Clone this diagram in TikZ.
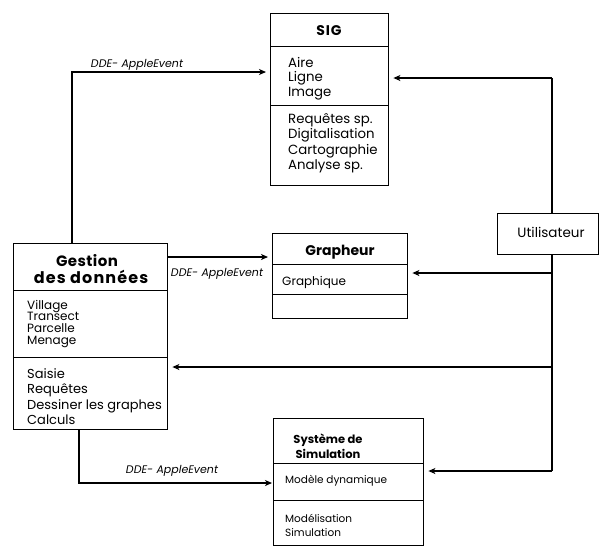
\documentclass[tikz,border=0pt]{standalone}
\usepackage{fontspec}
\setmainfont{Poppins}
\usetikzlibrary{arrows.meta}
\newcommand{\fs}[1]{\fontsize{#1}{#1}\selectfont}
\begin{document}
\begin{tikzpicture}[x=1pt,y=-1pt,
  frame/.style={draw, line width=1.4pt, anchor=north west, inner sep=0pt},
  sep/.style={line width=1pt},
  title/.style={anchor=base, inner sep=0pt, font=\bfseries},
  item/.style={anchor=base west, inner sep=0pt},
  link/.style={line width=1.1pt},
  arr/.style={line width=1.1pt, -{Stealth[length=7pt,width=6pt,inset=2pt]}, shorten >=4pt},
  tag/.style={anchor=base, inner sep=0pt, font=\fs{11}\itshape}]
\useasboundingbox (0,0) rectangle (600,550);

% --- SIG ---
\node[frame, minimum width=118pt, minimum height=172pt] (sig) at (270,13) {};
\draw[sep] (sig.west |- 0,46) -- (sig.east |- 0,46);
\draw[sep] (sig.west |- 0,105) -- (sig.east |- 0,105);
\node[title, font=\fs{14}\bfseries\addfontfeature{LetterSpace=6}] (sigt) at (329,35) {SIG};
\foreach \t [count=\i] in {Aire, Ligne, Image}
  \node[item, font=\fs{13.3}] (sig-a\i) at (288,{67+14.7*(\i-1)}) {\t};
\foreach \t [count=\i] in {Requêtes sp., Digitalisation, Cartographie, Analyse sp.}
  \node[item, font=\fs{13.3}] (sig-b\i) at (288,{123+15.5*(\i-1)}) {\t};

% --- Grapheur ---
\node[frame, minimum width=135pt, minimum height=85pt] (gra) at (272,233) {};
\draw[sep] (gra.west |- 0,264) -- (gra.east |- 0,264);
\draw[sep] (gra.west |- 0,294) -- (gra.east |- 0,294);
\node[title, font=\fs{14}\bfseries] (grat) at (340,255) {Grapheur};
\node[item, font=\fs{12}] (gra-a1) at (282,285) {Graphique};

% --- Gestion des données ---
\node[frame, minimum width=154pt, minimum height=186pt] (ges) at (13,243) {};
\draw[sep] (ges.west |- 0,290) -- (ges.east |- 0,290);
\draw[sep] (ges.west |- 0,357) -- (ges.east |- 0,357);
\node[title, font=\fs{15}\bfseries\addfontfeature{LetterSpace=3}] (gest1) at (87,266) {Gestion};
\node[title, font=\fs{16}\bfseries\addfontfeature{LetterSpace=7}] (gest2) at (91,283) {des données};
\foreach \t [count=\i] in {Village, Transect, Parcelle, Menage}
  \node[item, font=\fs{12}] (ges-a\i) at (27,{309+11.8*(\i-1)}) {\t};
\foreach \t [count=\i] in {Saisie, Requêtes, Dessiner les graphes, Calculs}
  \node[item, font=\fs{13}] (ges-b\i) at (27,{378+15.5*(\i-1)}) {\t};

% --- Système de Simulation ---
\node[frame, minimum width=150pt, minimum height=127pt] (sim) at (273,418) {};
\draw[sep] (sim.west |- 0,463) -- (sim.east |- 0,463);
\draw[sep] (sim.west |- 0,500) -- (sim.east |- 0,500);
\node[title, font=\fs{11.5}\bfseries] (simt1) at (328,443) {Système de};
\node[title, font=\fs{11.5}\bfseries] (simt2) at (328,458) {Simulation};
\node[item, font=\fs{10.5}] (sim-a1) at (285,483) {Modèle dynamique};
\node[item, font=\fs{10.5}] (sim-b1) at (285,522) {Modélisation};
\node[item, font=\fs{10.5}] (sim-b2) at (285,536) {Simulation};

% --- Utilisateur ---
\node[frame, minimum width=101pt, minimum height=41pt, fill=white] (usr) at (497,213) {};
\node[anchor=base, inner sep=0pt, font=\fs{13.5}] (usrt) at (551,237) {Utilisateur};

% --- links from Utilisateur ---
\coordinate (u1) at (552,78);
\coordinate (u2) at (552,273);
\coordinate (u3) at (552,367);
\coordinate (u4) at (552,471);
\draw[link] (u1) -- (usr.north -| u1);
\draw[link] (usr.south -| u4) -- (u4);
\draw[arr] (u1) -- (sig.east |- u1);
\draw[arr] (u2) -- (gra.east |- u2);
\draw[arr] (u3) -- (ges.east |- u3);
\draw[arr] (u4) -- (sim.east |- u4);

% --- DDE / AppleEvent links from Gestion ---
\coordinate (g1) at (72,72);
\draw[arr] (ges.north -| g1) -- (g1) -- (sig.west |- g1);
\node[tag] (l1) at (137,67) {DDE- AppleEvent};

\coordinate (g2) at (167,257);
\draw[arr] (g2) -- (gra.west |- g2);
\node[tag] (l2) at (217,276) {DDE- AppleEvent};

\coordinate (g3) at (79,483);
\draw[arr, shorten >=1pt] (ges.south -| g3) -- (g3) -- (sim.west |- g3);
\node[tag] (l3) at (172,473) {DDE- AppleEvent};
\end{tikzpicture}
\end{document}
